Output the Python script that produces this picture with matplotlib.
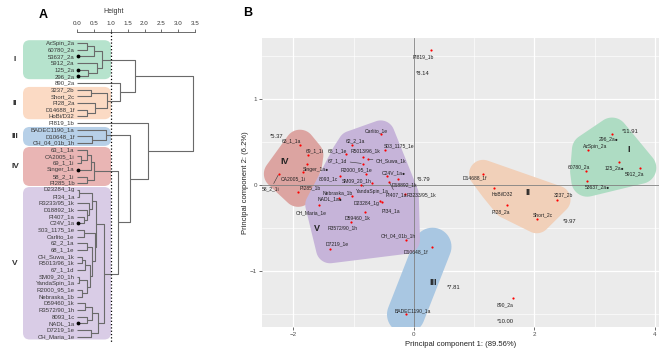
import matplotlib

matplotlib.use("Agg")

import matplotlib.pyplot as plt
import numpy as np
from matplotlib.patches import FancyBboxPatch, Polygon

plt.rcParams["font.family"] = ["Liberation Sans", "DejaVu Sans"]

# leaves of the dendrogram, top to bottom
leaves = [
    "AzSpin_2a", "60780_2a", "53637_2a", "5912_2a", "125_2a", "296_2a",
    "890_2a",
    "3237_2b", "Short_2c", "PI28_2a", "D14688_1f", "HoBi/D32",
    "PI819_1b",
    "BADEC1190_1a", "D10648_1f", "CH_04_01b_1h",
    "63_1_1a", "CA2005_1i", "69_1_1i", "Singer_1a", "58_2_1i", "PI285_1b",
    "D23284_1g", "PI34_1a", "R3233/95_1k", "D18892_1k", "PI407_1a", "C24V_1a",
    "S03_1175_1e", "Carlito_1e", "62_2_1a", "68_1_1e", "CH_Suwa_1k",
    "R5013/96_1k", "67_1_1d", "SM09_20_1h", "YandaSpin_1a", "R2000_95_1e",
    "Nebraska_1b", "D59460_1k", "R3572/90_1h", "8093_1c", "NADL_1a",
    "D7219_1e", "CH_Maria_1e",
]
leaf_cluster = (["I"] * 6 + [""] + ["II"] * 5 + [""] + ["III"] * 3
                + ["IV"] * 6 + ["V"] * 23)
# hull membership on the PCA (CH_04_01b_1h sits inside the V hull)
hull_group = (["I"] * 6 + [""] + ["II"] * 5 + [""] + ["III"] * 2 + ["V"]
              + ["IV"] * 6 + ["V"] * 23)
marked = ["53637_2a", "125_2a", "296_2a", "Singer_1a", "C24V_1a", "NADL_1a"]

# merges (ids < 45 are leaves, new nodes get 45, 46, ...)
merge_a = [0, 45, 4, 3, 46, 7, 10, 9, 50, 6, 49, 14, 13,
           17, 16, 59, 20, 60,
           22, 26, 25, 24, 63, 28, 30, 32, 70, 35, 37, 72, 71, 69, 68, 67,
           39, 41, 79, 43, 81, 78, 62, 57, 12, 55]
merge_b = [1, 2, 5, 47, 48, 8, 11, 51, 52, 53, 54, 15, 56,
           18, 58, 19, 21, 61,
           23, 27, 64, 65, 66, 29, 31, 33, 34, 36, 38, 73, 74, 75, 76, 77,
           40, 42, 80, 44, 82, 83, 84, 85, 86, 87]
merge_h = [0.29, 0.50, 0.33, 0.58, 0.73, 0.41, 0.29, 0.53, 0.89, 1.27, 1.72,
           0.44, 0.86,
           0.12, 0.30, 0.42, 0.30, 0.49,
           0.05, 0.20, 0.30, 0.36, 0.45, 0.20, 0.30, 0.15, 0.25, 0.06, 0.15,
           0.30, 0.38, 0.45, 0.52, 0.56,
           0.24, 0.30, 0.45, 0.40, 0.62, 0.80, 1.21, 1.57, 2.10, 3.43]

# PCA scores, same order as leaves
pc1 = [2.89, 2.86, 2.88, 3.76, 3.41, 3.29,
       1.64,
       2.37, 2.04, 1.55, 1.15, 1.33,
       0.29,
       -0.13, 0.31, -0.13,
       -1.89, -1.84, -1.75, -1.77, -2.24, -1.92,
       -0.56, -0.52, -0.15, -0.27, -0.41, -0.45,
       -0.48, -0.55, -1.03, -1.13, -0.76,
       -0.84, -0.85, -0.69, -0.87, -0.79,
       -1.03, -0.81, -1.05, -1.23, -1.25,
       -1.39, -1.57]
pc2 = [0.41, 0.16, 0.05, 0.20, 0.27, 0.60,
       -1.32,
       -0.17, -0.40, -0.23, 0.13, -0.04,
       1.57,
       -1.51, -0.72, -0.64,
       0.47, 0.15, 0.35, 0.25, 0.13, -0.08,
       -0.19, -0.195, -0.11, 0.07, 0.04, 0.10,
       0.41, 0.59, 0.47, 0.36, 0.30,
       0.33, 0.25, 0.02, 0.00, 0.13,
       -0.13, -0.32, -0.43, 0.10, -0.15,
       -0.75, -0.23]

score_values = [11.91, 9.97, 7.81, 5.37, 6.79, 8.14, 10.00]
score_pos = [(3.45, 0.62), (2.47, -0.43), (0.55, -1.20), (-2.39, 0.57),
             (0.05, 0.06), (0.03, 1.30), (1.38, -1.59)]

cluster_names = ["I", "II", "III", "IV", "V"]
box_colors = ["#b6e3cd", "#fbdac4", "#b7d0e8", "#e9b5b4", "#d9cce6"]
hull_colors = ["#aedcc3", "#f1d0b9", "#a9c7e2", "#dca4a1", "#c6b4d9"]
hull_radius = [16, 14, 19, 15, 14]
pca_roman_pos = [(3.57, 0.41), (1.89, -0.09), (0.32, -1.14), (-2.14, 0.27),
                 (-1.61, -0.51)]

# label offsets in pixels (dx, dy down) relative to the point
label_offset = {
    "AzSpin_2a": (7.5, -3), "60780_2a": (-7, -4.4), "53637_2a": (10, 6),
    "5912_2a": (-6, 6.3), "125_2a": (-5, 5.6), "296_2a": (-3, 5),
    "890_2a": (-7, 6.7), "3237_2b": (7, -4.3), "Short_2c": (6, -4.3),
    "PI28_2a": (-6, 7.4), "D14688_1f": (-8, 4), "HoBi/D32": (8, 5.7),
    "PI819_1b": (-8, 6.3), "BADEC1190_1a": (6.5, -4),
    "D10648_1f": (-16.7, 5), "CH_04_01b_1h": (-7.5, -4.3),
    "63_1_1a": (-9, -4.3), "CA2005_1i": (-9.5, 6.3), "69_1_1i": (6.5, -4),
    "Singer_1a": (9, 6.4), "58_2_1i": (-8, 15), "PI285_1b": (12, -3.7),
    "D23284_1g": (-14, 2), "PI34_1a": (8.3, 9), "R3233/95_1k": (17, 0),
    "D18892_1k": (7, 5.7), "PI407_1a": (7, 13.5), "C24V_1a": (7.5, -4),
    "S03_1175_1e": (14, -4), "Carlito_1e": (-4, -4), "62_2_1a": (4, -4),
    "68_1_1e": (-8, -3.5), "CH_Suwa_1k": (23, 1.7), "R5013/96_1k": (2.5, -6),
    "67_1_1d": (-25, -3), "SM09_20_1h": (-16, -2.6), "YandaSpin_1a": (11, 6.7),
    "R2000_95_1e": (-10, -3.6), "Nebraska_1b": (-14, -3),
    "D59460_1k": (-7.5, 5.7), "R3572/90_1h": (-7.7, 6.3), "8093_1c": (-11, 2.6),
    "NADL_1a": (-9, 1), "D7219_1e": (7.5, -5), "CH_Maria_1e": (-8.3, 7.7),
}
leader = ["CH_Suwa_1k", "67_1_1d", "58_2_1i", "YandaSpin_1a", "PI407_1a"]

W, H = 669, 355
fig = plt.figure(figsize=(W / 100, H / 100), dpi=100)


def px_axes(left, top, right, bottom):
    return fig.add_axes([left / W, 1 - bottom / H, (right - left) / W,
                         (bottom - top) / H])


# ---------------- A: dendrogram ----------------
axd = px_axes(10, 32, 200, 345)
x_ppu, y_ppu = 33.75, 6.675
axd.set_xlim(-(77 - 10) / x_ppu, (200 - 77) / x_ppu)
axd.set_ylim((345 - 43) / y_ppu, (32 - 43) / y_ppu)
for s in ["left", "right", "bottom"]:
    axd.spines[s].set_visible(False)
axd.spines["top"].set_bounds(0, 3.5)
axd.spines["top"].set_color("#555555")
axd.spines["top"].set_linewidth(0.6)
axd.xaxis.set_ticks_position("top")
axd.set_xticks(np.arange(0, 3.51, 0.5))
axd.set_xticklabels([f"{v:.1f}" for v in np.arange(0, 3.51, 0.5)])
axd.tick_params(axis="x", length=2.5, width=0.6, color="#555555",
                labelsize=4.5, pad=2, labelcolor="#333333")
axd.set_yticks([])
axd.text(1.1, 1.055, "Height", transform=axd.get_xaxis_transform(),
         ha="center", va="bottom", fontsize=5, color="#333333")

# cluster boxes
for name, col in zip(cluster_names, box_colors):
    idx = [i for i, c in enumerate(leaf_cluster) if c == name]
    y0, y1 = min(idx) - 0.42, max(idx) + 0.42
    x0, x1 = -(77 - 23) / x_ppu, (111 - 77) / x_ppu
    axd.add_patch(FancyBboxPatch((x0, y0), x1 - x0, y1 - y0,
                                 boxstyle="round,pad=0,rounding_size=0.2",
                                 mutation_aspect=x_ppu / y_ppu,
                                 fc=col, ec="none", zorder=0))
    axd.text(-(77 - 15) / x_ppu, (y0 + y1) / 2, name, ha="center",
             va="center", fontsize=6, fontweight="bold", color="#333333")

# tree
node_y = [float(i) for i in range(len(leaves))]
node_h = [0.0] * len(leaves)
for a, b, h in zip(merge_a, merge_b, merge_h):
    ya, yb = node_y[a], node_y[b]
    axd.plot([node_h[a], h, h, node_h[b]], [ya, ya, yb, yb],
             color="#6a6a6a", lw=0.8, solid_capstyle="butt", zorder=2)
    node_y.append((ya + yb) / 2)
    node_h.append(h)

for i, name in enumerate(leaves):
    axd.text(-0.07, i, name, ha="right", va="center", fontsize=4.3,
             color="#3a3a3a")
mk = [leaves.index(m) for m in marked]
axd.scatter([0.03] * len(mk), mk, s=3, c="black", zorder=3)

axd.plot([1.0, 1.0], [(32 - 43) / y_ppu, (342 - 43) / y_ppu], ls=":",
         color="black", lw=0.9, zorder=3)

# ---------------- B: PCA ----------------
axp = px_axes(262, 38, 659, 327)
axp.set_xlim(-2.52, 4.07)
axp.set_ylim(-1.657, 1.715)
axp.set_facecolor("#ebebeb")
for s in axp.spines.values():
    s.set_visible(False)
axp.set_xticks([-2, 0, 2, 4])
axp.set_yticks([-1, 0, 1])
axp.set_xticks([-1, 1, 3], minor=True)
axp.set_yticks([-1.5, -0.5, 0.5, 1.5], minor=True)
axp.grid(which="major", color="white", lw=0.9)
axp.grid(which="minor", color="white", lw=0.45)
axp.set_axisbelow(True)
axp.tick_params(which="major", length=2, width=0.5, color="#333333",
                labelsize=4.5, labelcolor="#4d4d4d", pad=1.5)
axp.tick_params(which="minor", length=0)
axp.set_xlabel("Principal component 1: (89.56%)", fontsize=5.5,
               color="#222222", labelpad=3)
axp.set_ylabel("Principal component 2: (6.2%)", fontsize=5.5,
               color="#222222", labelpad=1)

axp.axhline(0, color="#808080", lw=0.6, zorder=2)
axp.axvline(0, color="#808080", lw=0.6, zorder=2)


def convex_hull(pts):
    pts = sorted(set(map(tuple, pts)))
    if len(pts) < 3:
        return pts

    def cross(o, a, b):
        return (a[0] - o[0]) * (b[1] - o[1]) - (a[1] - o[1]) * (b[0] - o[0])
    lower, upper = [], []
    for p in pts:
        while len(lower) >= 2 and cross(lower[-2], lower[-1], p) <= 0:
            lower.pop()
        lower.append(p)
    for p in reversed(pts):
        while len(upper) >= 2 and cross(upper[-2], upper[-1], p) <= 0:
            upper.pop()
        upper.append(p)
    return lower[:-1] + upper[:-1]


fig.canvas.draw()
theta = np.linspace(0, 2 * np.pi, 48, endpoint=False)
circle = np.column_stack([np.cos(theta), np.sin(theta)])
for name, col, r in zip(cluster_names, hull_colors, hull_radius):
    idx = [i for i, c in enumerate(hull_group) if c == name]
    xy = np.column_stack([[pc1[i] for i in idx], [pc2[i] for i in idx]])
    disp = axp.transData.transform(xy)
    ring = np.concatenate([p + r * circle for p in disp])
    hull = np.array(convex_hull(ring))
    back = axp.transData.inverted().transform(hull)
    axp.add_patch(Polygon(back, closed=True, fc=col, ec="none", zorder=1))

axp.scatter(pc1, pc2, s=2.5, c="red", linewidths=0, zorder=4)

for i, name in enumerate(leaves):
    dx, dy = label_offset[name]
    txt = name + ("\u25cf" if name in marked else "")
    props = None
    if name in leader:
        props = dict(arrowstyle="-", lw=0.4, color="#333333",
                     shrinkA=0, shrinkB=1)
    axp.annotate(txt, (pc1[i], pc2[i]), xytext=(dx * 0.72, -dy * 0.72),
                 textcoords="offset points", ha="center", va="center",
                 fontsize=3.6, color="#222222", arrowprops=props, zorder=5)

for v, (x, y) in zip(score_values, score_pos):
    axp.text(x, y, f"*{v:.2f}", fontsize=4.2, ha="left", va="center",
             color="#222222", zorder=5)

for name, (x, y) in zip(cluster_names, pca_roman_pos):
    axp.text(x, y, name, fontsize=6.5, fontweight="bold", ha="center",
             va="center", color="#222222", zorder=5)

fig.text(43 / W, 1 - 15 / H, "A", fontsize=9, fontweight="bold",
         ha="center", va="center")
fig.text(248 / W, 1 - 13 / H, "B", fontsize=9, fontweight="bold",
         ha="center", va="center")

fig.savefig("out.png", dpi=100)
